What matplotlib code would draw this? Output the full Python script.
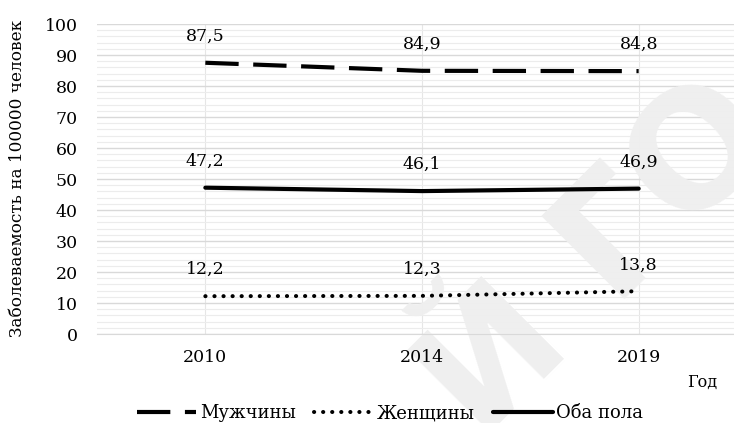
import matplotlib
matplotlib.use("Agg")
import matplotlib.pyplot as plt
from matplotlib.ticker import MultipleLocator

years = ["2010", "2014", "2019"]
men = [87.5, 84.9, 84.8]
women = [12.2, 12.3, 13.8]
both = [47.2, 46.1, 46.9]
series_names = ["Мужчины", "Женщины", "Оба пола"]

plt.rcParams['font.family'] = ['DejaVu Serif']

W, H = 734, 423
fig = plt.figure(figsize=(W / 100, H / 100), dpi=100)
pos = [97 / W, 89 / H, (747 - 97) / W, 310 / H]
ax = fig.add_axes(pos)

x = list(range(len(years)))
ax.set_xlim(-0.5, 2.5)
ax.set_ylim(0, 100)

# grid (bottom axes, no labels)
ax.yaxis.set_major_locator(MultipleLocator(10))
ax.yaxis.set_minor_locator(MultipleLocator(2))
ax.set_xticks(x)
ax.set_xticks([-0.5, 0.5, 1.5, 2.5], minor=True)
ax.grid(which='major', axis='y', color='#d9d9d9', lw=1.0)
ax.grid(which='minor', axis='y', color='#ececec', lw=0.8)
ax.grid(which='both', axis='x', color='#e6e6e6', lw=0.8)
ax.set_axisbelow(True)
for s in ['top', 'right', 'left']:
    ax.spines[s].set_visible(False)
ax.spines['bottom'].set_color('#d9d9d9')
ax.tick_params(which='both', length=0, labelbottom=False, labelleft=False)

# watermark (above grid, below lines)
ax.text(600 / W, 1 - 260 / H, "Й ГО", transform=fig.transFigure, rotation=45,
        fontsize=115, fontweight='bold', color='#efefef', ha='center', va='center',
        family='DejaVu Sans', zorder=1, clip_on=False)

l1, = ax.plot(x, men, color='black', lw=3, dashes=(8, 3.5), dash_capstyle='butt',
              label=series_names[0], zorder=3)
l2, = ax.plot(x, women, color='black', lw=2.9, dashes=(0.05, 2.2), dash_capstyle='round',
              label=series_names[1], zorder=3)
l3, = ax.plot(x, both, color='black', lw=3, solid_capstyle='round',
              label=series_names[2], zorder=3)

for ser in (men, women, both):
    for xi, v in zip(x, ser):
        ax.annotate(f"{v:.1f}".replace('.', ','), (xi, v), xytext=(0, 19),
                    textcoords='offset points', ha='center', va='center',
                    fontsize=12.5, zorder=4)

# overlay axes for tick labels (on top of watermark)
ax2 = fig.add_axes(pos, sharex=ax, sharey=ax)
ax2.patch.set_visible(False)
for s in ax2.spines.values():
    s.set_visible(False)
ax2.tick_params(which='both', length=0)
ax2.tick_params(axis='y', pad=14, labelsize=12.5)
ax2.tick_params(axis='x', pad=11, labelsize=12.5)
ax2.set_xticks(x)
ax2.set_xticks([], minor=True)
ax2.set_xticklabels(years)
ax2.grid(False)

fig.text(18 / W, 1 - 178 / H, "Заболеваемость на 100000 человек", rotation=90,
         ha='center', va='center', fontsize=12.2)
fig.text(702 / W, 1 - 382 / H, "Год", ha='center', va='center', fontsize=11.5)

fig.legend(handles=[l1, l2, l3], loc='center', bbox_to_anchor=(390 / W, 1 - 413 / H),
           ncol=3, frameon=False, fontsize=13, handlelength=3.3, handletextpad=0.2,
           columnspacing=1.0, borderpad=0)

fig.savefig("out.png", dpi=100)
